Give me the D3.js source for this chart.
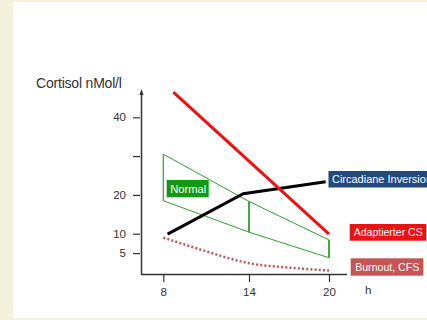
<!DOCTYPE html>
<html><head><meta charset="utf-8">
<script src="https://cdn.jsdelivr.net/npm/d3@7"></script>
<style>html,body{margin:0;padding:0;background:#f3f1dc;}svg{display:block;}</style>
</head><body>
<script>
const hours = [8, 14, 20];
const yTicks = [5, 10, 20, 30, 40];
const yTickLabels = ["5", "10", "20", "", "40"];
const adaptiert = [[8.7, 46.5], [20, 9.9]];
const inversion = [[8.3, 9.9], [13.6, 20.3], [19.75, 23.4]];
const normalUpper = [[8, 30.5], [14, 18.3], [20, 8.4]];
const normalLower = [[8, 18.5], [14, 10.4], [20, 3.8]];
const burnout = [[8, 9.0], [10.7, 5.8], [14, 2.4], [17.2, 1.2], [20, 0.5]];
const labels = ["Circadiane Inversion", "Adaptierter CS", "Burnout, CFS", "Normal"];

const W = 427, H = 320;
const svg = d3.select("body").append("svg").attr("width", W).attr("height", H);
svg.append("rect").attr("x", 0).attr("y", 0).attr("width", W).attr("height", H).attr("fill", "#f3f1dc");
svg.append("rect").attr("x", 13).attr("y", 2).attr("width", W - 13).attr("height", 316).attr("fill", "#ffffff");

const x = d3.scaleLinear().domain([8, 14, 20]).range([163.3, 249, 329]);
const y = d3.scaleLinear().domain([0, 40]).range([272.5, 117.3]);
const axisColor = "#333";
const font = "Liberation Sans, Arial, sans-serif";

// axes
const xAxisY = 274;
const yAxisX = 141;
const xa = svg.append("g").attr("transform", `translate(0,${xAxisY})`)
  .call(d3.axisBottom(x).tickValues(hours).tickSize(8).tickPadding(6).tickFormat(d3.format("d")));
xa.select(".domain").remove();
xa.append("line").attr("x1", yAxisX).attr("x2", 347).attr("y1", 0.5).attr("y2", 0.5).attr("stroke", axisColor).attr("stroke-width", 1.5);
xa.selectAll(".tick line").attr("stroke", axisColor).attr("stroke-width", 1.2);
xa.selectAll(".tick text").attr("fill", "#333").attr("font-family", font).attr("font-size", 11.5);

const ya = svg.append("g").attr("transform", `translate(${yAxisX},0)`)
  .call(d3.axisLeft(y).tickValues(yTicks).tickSize(8).tickPadding(7).tickFormat((d, i) => yTickLabels[i]));
ya.select(".domain").remove();
ya.append("line").attr("x1", 0.5).attr("x2", 0.5).attr("y1", 92).attr("y2", xAxisY + 1).attr("stroke", axisColor).attr("stroke-width", 1.5);
ya.append("path").attr("d", "M0.5,89 L-1.5,95 L2.5,95 Z").attr("fill", axisColor);
ya.selectAll(".tick line").attr("stroke", axisColor).attr("stroke-width", 1.2).attr("x2", -8).attr("x1", -1);
ya.selectAll(".tick text").attr("fill", "#333").attr("font-family", font).attr("font-size", 11.5);

svg.append("text").attr("x", 36).attr("y", 88).attr("font-family", font).attr("font-size", 14)
  .attr("fill", "#333").attr("letter-spacing", -0.2).text("Cortisol nMol/l");
svg.append("text").attr("x", 365).attr("y", 294).attr("font-family", font).attr("font-size", 11.5)
  .attr("fill", "#333").text("h");

const line = d3.line().x(d => x(d[0])).y(d => y(d[1]));
const curve = d3.line().x(d => x(d[0])).y(d => y(d[1])).curve(d3.curveMonotoneX);

// Normal band
const green = "#2ea02e";
svg.append("path").attr("d", line(normalUpper)).attr("fill", "none").attr("stroke", green).attr("stroke-width", 1);
svg.append("path").attr("d", line(normalLower)).attr("fill", "none").attr("stroke", green).attr("stroke-width", 1);
hours.forEach((h, i) => {
  svg.append("line").attr("x1", x(h)).attr("x2", x(h))
    .attr("y1", y(normalUpper[i][1])).attr("y2", y(normalLower[i][1]))
    .attr("stroke", green).attr("stroke-width", i === 0 ? 1.2 : 1.8);
});

// Burnout dotted
svg.append("path").attr("d", curve(burnout)).attr("fill", "none").attr("stroke", "#c55555")
  .attr("stroke-width", 2.5).attr("stroke-dasharray", "2,2.2");

// Inversion
svg.append("path").attr("d", line(inversion)).attr("fill", "none").attr("stroke", "#000").attr("stroke-width", 3);

// Adaptiert
svg.append("path").attr("d", line(adaptiert)).attr("fill", "none").attr("stroke", "#ee1111").attr("stroke-width", 3);

// label boxes
function box(x0, y0, w, h, fill, text, tx, tl, fs) {
  svg.append("rect").attr("x", x0).attr("y", y0).attr("width", w).attr("height", h).attr("fill", fill);
  svg.append("text").attr("x", x0 + tx).attr("y", y0 + h / 2 + 4).attr("font-family", font)
    .attr("font-size", fs).attr("fill", "#fff")
    .attr("textLength", tl).attr("lengthAdjust", "spacingAndGlyphs").text(text);
}
box(328.5, 171, 110, 16.5, "#23497f", labels[0], 3.5, 100, 11.5);
box(349.7, 224, 76.6, 16.7, "#ee1111", labels[1], 4, 69, 11);
box(350.7, 258.3, 72.6, 17.4, "#c55555", labels[2], 4.5, 64, 11.5);
box(166.7, 180, 42, 17.3, "#139a13", labels[3], 3.5, 36, 11.5);
</script>
</body></html>
